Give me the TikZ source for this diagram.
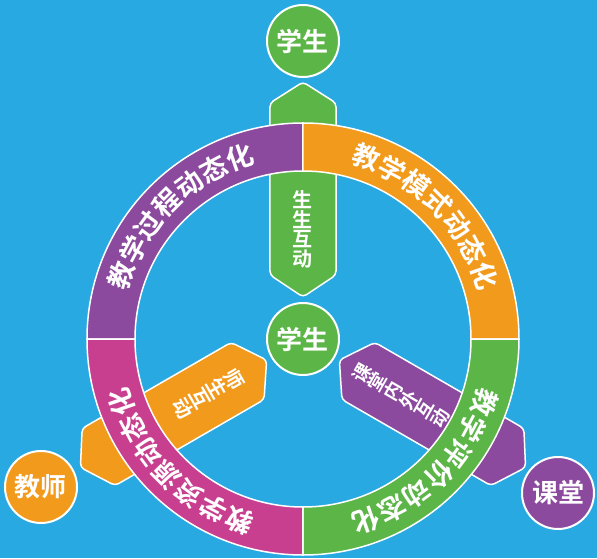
\documentclass[tikz,border=0pt]{standalone}
\usepackage{fontspec}
\newfontfamily\cjk{Noto Sans CJK SC}[BoldFont={* Bold}]
\definecolor{bg}{HTML}{28A9E1}
\definecolor{cgreen}{HTML}{5CB547}
\definecolor{corange}{HTML}{F29A1C}
\definecolor{cpurple}{HTML}{8B4A9D}
\definecolor{cmagenta}{HTML}{C93F8F}
\tikzset{
  spokebox/.style={draw=white, line width=1.5pt, rounded corners=4pt},
  ringseg/.style={draw=white, line width=1.5pt},
  ringtxt/.style={inner sep=0pt, text=white, font=\cjk\bfseries\fontsize{27}{27}\selectfont},
  spoketxt/.style={inner sep=0pt, text=white, align=center, font=\cjk\bfseries\fontsize{20}{19.5}\selectfont},
  spoketxts/.style={inner sep=0pt, text=white, align=center, font=\cjk\bfseries\fontsize{18.5}{18}\selectfont},
  circ/.style={circle, minimum size=72pt, inner sep=0pt, draw=white, line width=2pt,
    text=white, font=\cjk\bfseries\fontsize{26}{26}\selectfont}
}
\begin{document}
\begin{tikzpicture}[x=1pt,y=1pt]
\useasboundingbox (-303,-219) rectangle (294,339);
\fill[bg] (-303,-219) rectangle (294,339);
% spokes
\foreach \ang/\col in {90/cgreen,210/corange,330/cpurple}{
  \filldraw[fill=\col, spokebox, rotate=\ang]
    (150,33) -- (236,33) -- (257,0) -- (236,-33) -- (64,-33) -- (42,0) -- (64,33) -- cycle;
}
% ring
\foreach \a/\b/\col in {90/180/cpurple,0/90/corange,-90/0/cgreen,180/270/cmagenta}{
  \filldraw[fill=\col, ringseg] (\a:168) arc[start angle=\a, end angle=\b, radius=168]
    -- (\b:216) arc[start angle=\b, end angle=\a, radius=216] -- cycle;
}
% ring texts
\foreach \m/\nm/\lst in {135/p/{教,学,过,程,动,态,化},45/o/{教,学,模,式,动,态,化},-45/g/{教,学,评,价,动,态,化},-135/m/{教,学,资,源,动,态,化}}{
  \foreach \c [count=\i from 0] in \lst {
    \pgfmathsetmacro\aa{\m+25.8-8.6*\i}
    \node[ringtxt, rotate=\aa-90] (r\nm\i) at (\aa:192) {\c};
  }
}
% spoke texts
\node[spoketxt] (stop) at (90:109.5) {生\\生\\互\\动};
\node[spoketxt, rotate=-60] (sleft) at (210:109) {师\\生\\互\\动};
\node[spoketxts, rotate=60] (sright) at (330:113) {课\\堂\\内\\外\\互\\动};
% circles
\node[circ, fill=cgreen] (top) at (0,298) {学生};
\node[circ, fill=cgreen] (center) at (0,0) {学生};
\node[circ, fill=corange] (teacher) at (-262,-148) {教师};
\node[circ, fill=cpurple] (class) at (255,-154) {课堂};
\end{tikzpicture}
\end{document}
